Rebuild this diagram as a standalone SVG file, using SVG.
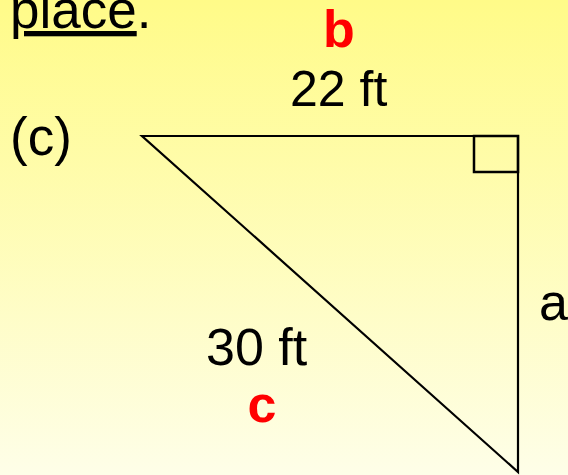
<svg xmlns="http://www.w3.org/2000/svg" width="568" height="475" viewBox="0 0 568 475">
<defs>
<linearGradient id="bg" x1="0" y1="0" x2="0" y2="1">
<stop offset="0" stop-color="#FFFB88"/>
<stop offset="1" stop-color="#FEFEE8"/>
</linearGradient>
<style>
.t{font-family:"Liberation Sans",Arial,sans-serif;fill:#000}
.r{font-family:"Liberation Sans",Arial,sans-serif;fill:#FF0000;font-weight:bold}
.s{fill:none;stroke:#000}
</style>
</defs>
<rect width="568" height="475" fill="url(#bg)"/>
<text class="t" x="10" y="28" font-size="53"><tspan text-decoration="underline">place</tspan>.</text>
<text class="t" x="10" y="155" font-size="53">(c)</text>
<g id="triangle">
<polygon class="s" stroke-width="2.2" points="142,136 518,136 518,472"/>
<rect class="s" stroke-width="2.5" x="474" y="136" width="44" height="36"/>
</g>
<g id="labels">
<text class="r" x="339" y="47" font-size="52" text-anchor="middle">b</text>
<text class="t" x="290" y="106" font-size="50">22 ft</text>
<text class="t" x="206" y="365" font-size="52">30 ft</text>
<text class="r" x="262" y="422" font-size="52" text-anchor="middle">c</text>
<text class="t" x="539" y="320" font-size="52">a</text>
</g>
</svg>
